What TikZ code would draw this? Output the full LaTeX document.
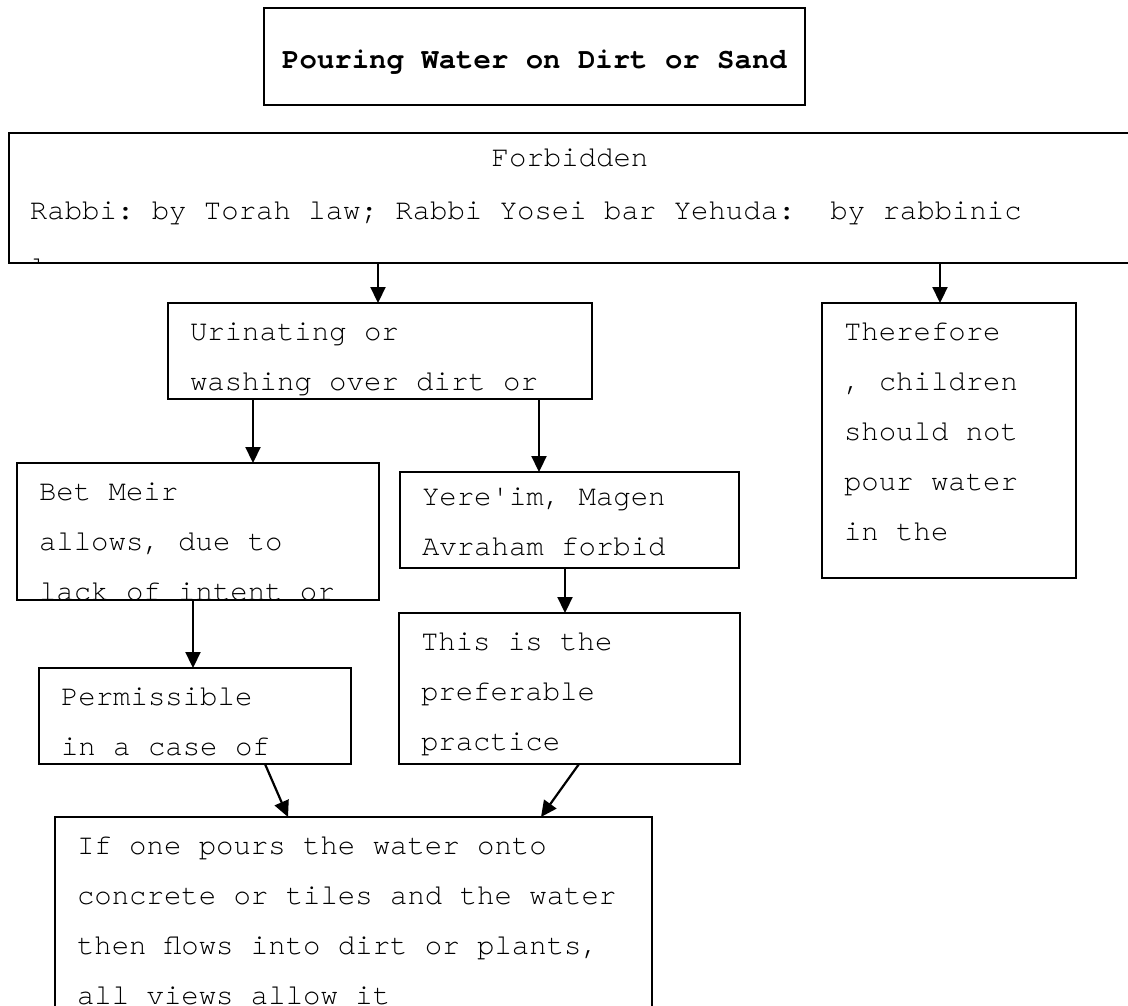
\documentclass[tikz,border=0pt]{standalone}
\usepackage{fontspec}
\setmonofont{TeX Gyre Cursor}
\usetikzlibrary{positioning,arrows.meta}

\newcommand{\stacklines}[1]{\begin{tabular}[t]{@{}l@{}}#1\end{tabular}}

\tikzset{
  every node/.style={font=\ttfamily\fontsize{29}{50}\selectfont},
  box/.style 2 args={draw, line width=1.2pt, minimum width=#1, minimum height=#2, inner sep=0pt, outer sep=0pt},
  inner/.style={draw=none, inner sep=0pt, minimum width=0pt, minimum height=0pt},
  txtat/.style 2 args={path picture={\node[inner, anchor=base west] at ([shift={(22pt,-#1)}]path picture bounding box.north west) {\stacklines{#2}};}},
  txt/.style={txtat={37pt}{#1}},
  arr/.style={line width=2.2pt, -{Triangle[length=16pt,width=15pt]}}
}

\begin{document}
\begin{tikzpicture}[x=1pt, y=1pt]
  \useasboundingbox (0,0) rectangle (1128,-1005);
  \clip (0,0) rectangle (1128,-1005);
  % Define nodes
  \node[box={541pt}{97pt}, text height=23pt, text depth=0pt] (title) at (534.5,-56.5) {\bfseries Pouring Water on Dirt or Sand};
  \node[box={1140pt}{130pt}, below=28pt of title.south west, anchor=north west, xshift=-255pt,
    path picture={
      \node[inner, anchor=base] at ([shift={(561pt,-33pt)}]path picture bounding box.north west) {Forbidden};
      \node[inner, anchor=base west] at ([shift={(21pt,-86pt)}]path picture bounding box.north west) {Rabbi: by Torah law; Rabbi Yosei bar Yehuda:~ by rabbinic};
      \node[inner, anchor=base west] at ([shift={(21pt,-143pt)}]path picture bounding box.north west) {law};
    }] (forb) {};
  \node[box={424pt}{96pt}, below=40pt of forb.south west, anchor=north west, xshift=159pt,
    txt={Urinating or\\washing over dirt or}] (urin) {};
  \node[box={254pt}{275pt}, below=40pt of forb.south west, anchor=north west, xshift=813pt,
    txt={Therefore\\, children\\should not\\pour water\\in the}] (there) {};
  \node[box={362pt}{137pt}, below=64pt of urin.south west, anchor=north west, xshift=-151pt,
    txt={Bet Meir\\allows, due to\\lack of intent or}] (bet) {};
  \node[box={339pt}{96pt}, below=73pt of urin.south west, anchor=north west, xshift=232pt,
    txtat={33pt}{Yere'im, Magen\\Avraham forbid}] (yere) {};
  \node[box={312pt}{96pt}, below=68pt of bet.south west, anchor=north west, xshift=22pt,
    txt={Permissible\\in a case of}] (perm) {};
  \node[box={341pt}{151pt}, below=45pt of yere.south west, anchor=north west, xshift=-1pt,
    txt={This is the\\preferable\\practice}] (pref) {};
  \node[box={597pt}{250pt}, below=53pt of perm.south west, anchor=north west, xshift=16pt,
    txt={If one pours the water onto\\concrete or tiles and the water\\then flows into dirt or plants,\\all views allow it}] (ifone) {};
  % Connect nodes
  \draw[arr] ([xshift=210pt]urin.north west |- forb.south) -- ([xshift=210pt]urin.north west);
  \draw[arr] ([xshift=118pt]there.north west |- forb.south) -- ([xshift=118pt]there.north west);
  \draw[arr] ([xshift=236pt]bet.north west |- urin.south) -- ([xshift=236pt]bet.north west);
  \draw[arr] ([xshift=139pt]yere.north west |- urin.south) -- ([xshift=139pt]yere.north west);
  \draw[arr] ([xshift=154pt]perm.north west |- bet.south) -- ([xshift=154pt]perm.north west);
  \draw[arr] ([xshift=166pt]pref.north west |- yere.south) -- ([xshift=166pt]pref.north west);
  \draw[arr] ([xshift=226pt]perm.south west) -- ([xshift=233pt]ifone.north west);
  \draw[arr] ([xshift=180pt]pref.south west) -- ([xshift=486pt]ifone.north west);
\end{tikzpicture}
\end{document}
